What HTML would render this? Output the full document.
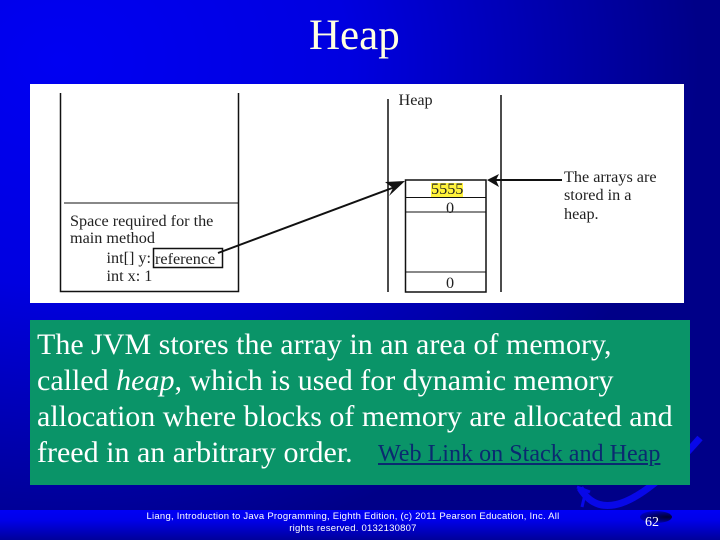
<!DOCTYPE html>
<html><head><meta charset="utf-8"><style>
html,body{margin:0;padding:0}
#s{position:relative;width:720px;height:540px;overflow:hidden;background:radial-gradient(ellipse 640px 500px at 60px 60px,#0000f2 0%,#0000e0 45%,#000088 100%);font-family:"Liberation Serif",serif}
#s>*{position:absolute}
.t{white-space:nowrap;color:#fff;font-size:30px;line-height:36px;left:37px}
</style></head><body><div id="s">
<svg style="left:0;top:0" width="720" height="540" viewBox="0 0 720 540">
<path d="M580 488 Q611 540 700 438" fill="none" stroke="#0808e8" stroke-width="7"/>
<path d="M577 487 L590 492 M586 490 L582 507" fill="none" stroke="#0808e8" stroke-width="3"/>
</svg>
<div style="left:0;top:510px;width:720px;height:30px;background:linear-gradient(#0000f5 0%,#0000e8 35%,#00009a 100%)"></div>
<div style="left:640px;top:511px;width:32px;height:12px;border-radius:50%;background:radial-gradient(ellipse at 85% 50%,#000030 0%,#000070 40%,rgba(0,0,200,0) 100%)"></div>
<div style="left:309px;top:12px;font-size:43px;line-height:48px;color:#ffffe0;white-space:nowrap">Heap</div>
<svg style="left:30px;top:84px" width="654" height="219" viewBox="30 84 654 219">
<rect x="30" y="84" width="654" height="219" fill="#fff"/>
<rect x="431" y="183" width="32" height="15" fill="#fff23c"/>
<g stroke="#111" fill="none">
<path d="M60.500 93V291.500H238.500V93" stroke-width="1.500"/>
<path d="M64 203H238" stroke-width="1"/>
<rect x="153.500" y="248.500" width="69" height="19" stroke-width="1.500"/>
<path d="M388 99V292M501 95V292" stroke-width="1.500"/>
<rect x="405.500" y="180" width="80.500" height="112" stroke-width="1.500"/>
<path d="M405 197.500H486M405 212H486M405 272H486" stroke-width="1"/>
<path d="M218 253L395 187" stroke-width="2"/>
<path d="M490 180H562" stroke-width="2"/>
</g>
<path d="M405 181L389 196L393 188L385 182Z" fill="#111"/>
<path d="M487 180L499 174L496 180L499 187Z" fill="#111"/>
<g font-family="'Liberation Serif',serif" font-size="16.200" fill="#222">
<text x="70" y="226">Space required for the</text>
<text x="70" y="243">main method</text>
<text x="106.500" y="263">int[] y:</text>
<text x="155" y="264">reference</text>
<text x="106.500" y="281">int x:  1</text>
<text x="398.500" y="105">Heap</text>
<text x="431" y="194">5555</text>
<text x="446" y="213">0</text>
<text x="446" y="288">0</text>
<text x="564" y="182">The arrays are</text>
<text x="564" y="200">stored in a</text>
<text x="564" y="219">heap.</text>
</g>
</svg>
<div style="left:30px;top:320px;width:660px;height:165px;background:#0a9468"></div>
<div class="t" style="top:327px">The JVM stores the array in an area of memory,</div>
<div class="t" style="top:363px">called <i>heap</i>, which is used for dynamic memory</div>
<div class="t" style="top:399px">allocation where blocks of memory are allocated and</div>
<div class="t" style="top:435px">freed in an arbitrary order.</div>
<div style="left:378px;top:440px;font-size:24.100px;line-height:28px;color:#0a2a70;text-decoration:underline;white-space:nowrap">Web Link on Stack and Heap</div>
<div style="left:130px;top:511px;width:446px;text-align:center;font-family:'Liberation Sans',sans-serif;font-size:9.500px;line-height:12px;color:#fff;letter-spacing:.24px">Liang, Introduction to Java Programming, Eighth Edition, (c) 2011 Pearson Education, Inc. All<br>rights reserved. 0132130807</div>
<div style="left:645px;top:515px;font-size:14px;line-height:16px;color:#fff">62</div>
</div></body></html>
